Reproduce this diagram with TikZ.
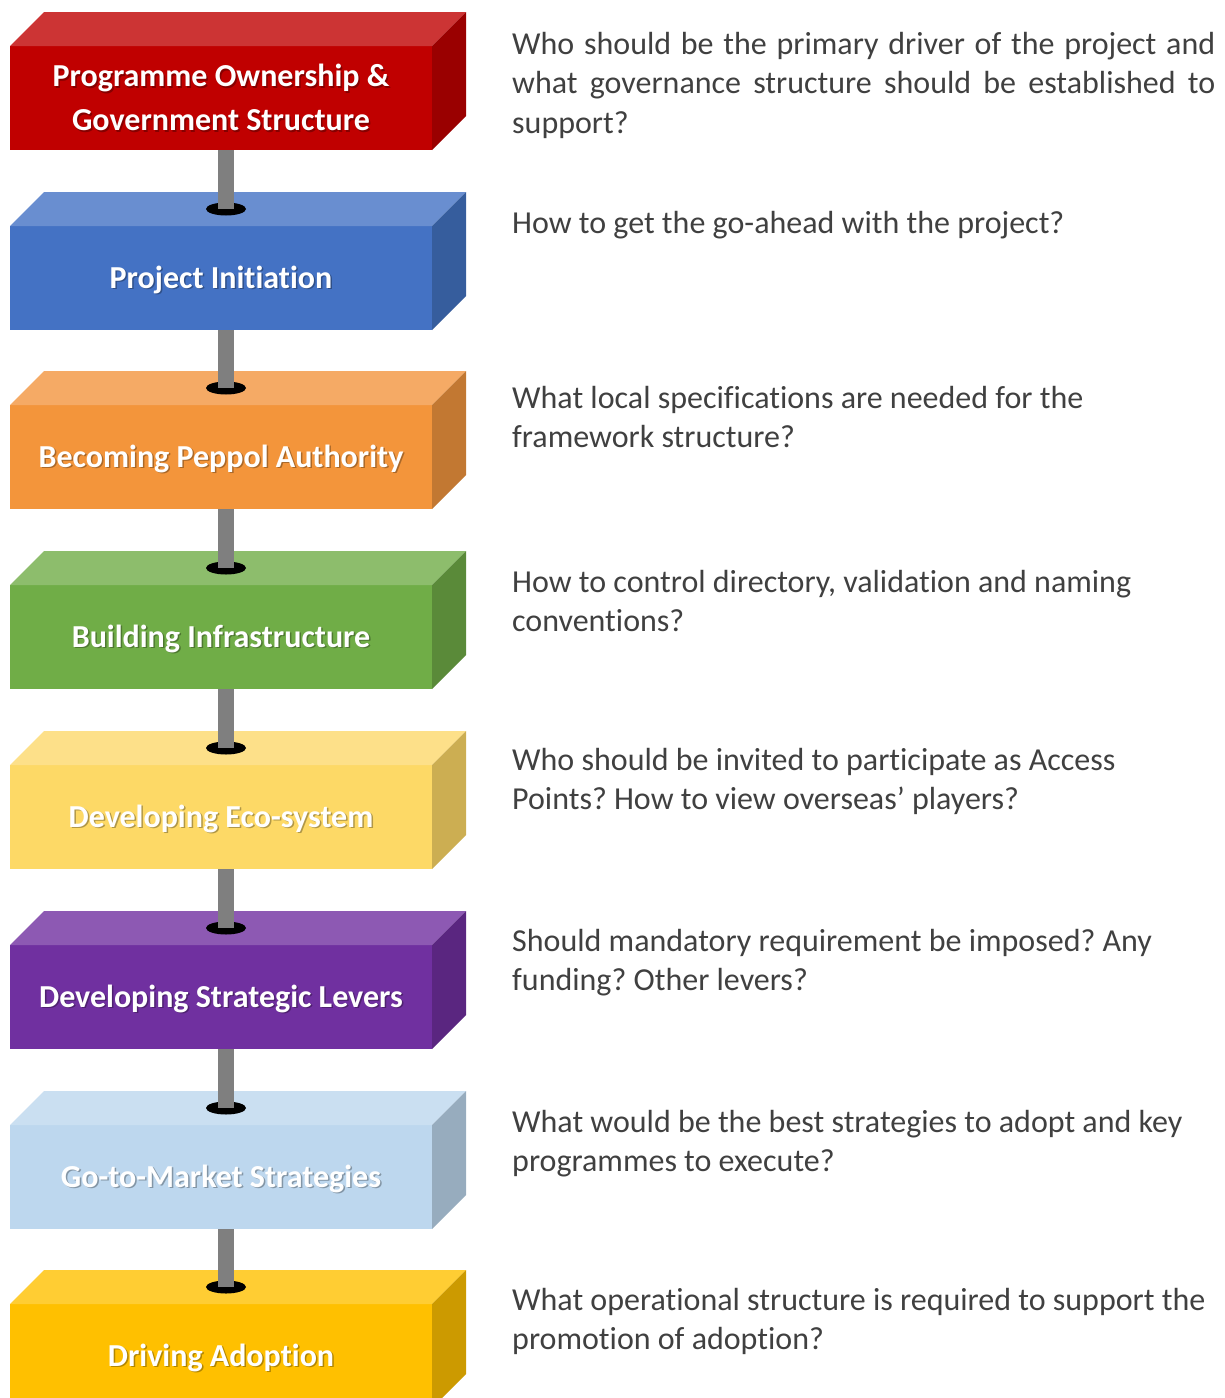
\documentclass[tikz,border=0pt]{standalone}
\usepackage{fontspec}
\setmainfont[Ligatures=NoCommon]{Carlito}
\frenchspacing
\usetikzlibrary{calc}
\definecolor{redF}{HTML}{C00000}\definecolor{redT}{HTML}{CC3434}\definecolor{redS}{HTML}{9A0000}
\definecolor{bluF}{HTML}{4472C4}\definecolor{bluT}{HTML}{698ED0}\definecolor{bluS}{HTML}{365D9D}
\definecolor{oraF}{HTML}{F3953B}\definecolor{oraT}{HTML}{F5AA65}\definecolor{oraS}{HTML}{C27832}
\definecolor{grnF}{HTML}{70AD47}\definecolor{grnT}{HTML}{8DBD6C}\definecolor{grnS}{HTML}{5A8A39}
\definecolor{yelF}{HTML}{FDD966}\definecolor{yelT}{HTML}{FDE089}\definecolor{yelS}{HTML}{CCAE52}
\definecolor{purF}{HTML}{7030A0}\definecolor{purT}{HTML}{8D59B3}\definecolor{purS}{HTML}{5A2680}
\definecolor{lbuF}{HTML}{BDD7EE}\definecolor{lbuT}{HTML}{CADFF1}\definecolor{lbuS}{HTML}{97ACBE}
\definecolor{gldF}{HTML}{FFC000}\definecolor{gldT}{HTML}{FFCD33}\definecolor{gldS}{HTML}{CC9A00}
\definecolor{qgray}{HTML}{404040}
\definecolor{rodgray}{HTML}{7F7F7F}
\tikzset{
  frontface/.style={minimum width=422pt, minimum height=104pt, inner sep=0pt, outer sep=0pt, draw=none},
  boxlabel/.style={text=white, font=\bfseries\fontsize{32}{44}\selectfont, align=center, inner sep=0pt},
  boxshadow/.style={text=black, opacity=0.3, font=\bfseries\fontsize{32}{44}\selectfont, align=center, inner sep=0pt},
  question/.style={text=qgray, font=\fontsize{32}{39.5}\selectfont, inner sep=0pt, anchor=base west},
  rod/.style={draw=rodgray, line width=16pt},
  hole/.style={fill=black}
}
\newcommand\stagebox[7]{%
  \node[frontface, fill=#3] (b#1) at (221,#2+86) {};
  \fill[#4] (b#1.north west) -- ++(34,-34) -- ++(422,0) -- (b#1.north east) -- cycle;
  \fill[#5] (b#1.north east) -- ++(34,-34) -- ++(0,104) -- (b#1.south east) -- cycle;
  \node[boxshadow] at ($(b#1.center)+(1.5,#7+1.8)$) {#6};
  \node[boxlabel] (t#1) at ($(b#1.center)+(0,#7)$) {#6};
}
\newcommand\holeat[2]{%
  \coordinate (h#1) at (226,#2+17);
  \fill[hole] (h#1) ellipse [x radius=20pt, y radius=6.5pt];
}
\begin{document}
\begin{tikzpicture}[x=1pt,y=-1pt]
\useasboundingbox (0,0) rectangle (1225,1398);
\clip (0,0) rectangle (1225,1398);
\stagebox{1}{12}{redF}{redT}{redS}{Programme Ownership \&\\Government Structure}{-0.5}
\stagebox{2}{192}{bluF}{bluT}{bluS}{Project Initiation}{1.5}
\stagebox{3}{371}{oraF}{oraT}{oraS}{Becoming Peppol Authority}{1.5}
\stagebox{4}{551}{grnF}{grnT}{grnS}{Building Infrastructure}{1.5}
\stagebox{5}{731}{yelF}{yelT}{yelS}{Developing Eco-system}{1.5}
\stagebox{6}{911}{purF}{purT}{purS}{Developing Strategic Levers}{1.5}
\stagebox{7}{1091}{lbuF}{lbuT}{lbuS}{Go-to-Market Strategies}{1.5}
\stagebox{8}{1270}{gldF}{gldT}{gldS}{Driving Adoption}{1.5}
\holeat{2}{192}
\holeat{3}{371}
\holeat{4}{551}
\holeat{5}{731}
\holeat{6}{911}
\holeat{7}{1091}
\holeat{8}{1270}
\draw[rod] (b1.south -| h2) -- (h2);
\draw[rod] (b2.south -| h3) -- (h3);
\draw[rod] (b3.south -| h4) -- (h4);
\draw[rod] (b4.south -| h5) -- (h5);
\draw[rod] (b5.south -| h6) -- (h6);
\draw[rod] (b6.south -| h7) -- (h7);
\draw[rod] (b7.south -| h8) -- (h8);
\node[question] (q1a) at (512,54) {\makebox[703pt][s]{Who should be the primary driver of the project and}};
\node[question] (q1b) at (512,93.5) {\makebox[703pt][s]{what governance structure should be established to}};
\node[question] (q1c) at (512,133) {support?};
\node[question] (q2a) at (512,233) {How to get the go-ahead with the project?};
\node[question] (q3a) at (512,408) {What local specifications are needed for the};
\node[question] (q3b) at (512,447.5) {framework structure?};
\node[question] (q4a) at (512,592) {How to control directory, validation and naming};
\node[question] (q4b) at (512,631.5) {conventions?};
\node[question] (q5a) at (512,770) {Who should be invited to participate as Access};
\node[question] (q5b) at (512,809.5) {Points? How to view overseas’ players?};
\node[question] (q6a) at (512,951) {Should mandatory requirement be imposed? Any};
\node[question] (q6b) at (512,990.5) {funding? Other levers?};
\node[question] (q7a) at (512,1132) {What would be the best strategies to adopt and key};
\node[question] (q7b) at (512,1171.5) {programmes to execute?};
\node[question] (q8a) at (512,1310) {What operational structure is required to support the};
\node[question] (q8b) at (512,1349.5) {promotion of adoption?};
\end{tikzpicture}
\end{document}
